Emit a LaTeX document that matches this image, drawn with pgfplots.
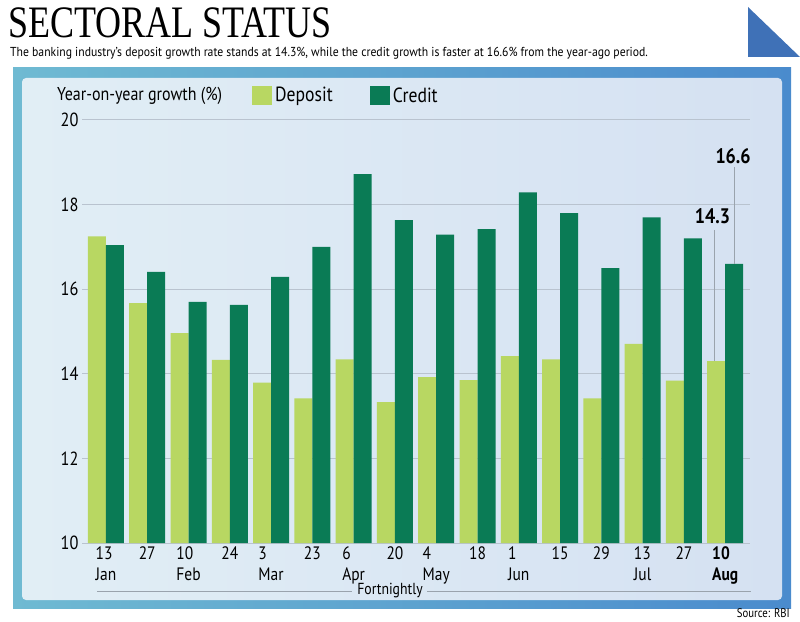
\documentclass[border=0pt]{standalone}
\usepackage{fontspec}
\setmainfont{PT Sans}
\newfontfamily\condfont[FakeStretch=0.86]{PT Sans}
\newfontfamily\subfont[FakeStretch=0.9]{PT Sans}
\newfontfamily\titlefont[FakeStretch=0.8]{Liberation Serif}
\usepackage{pgfplots}
\pgfplotsset{compat=1.18}
\definecolor{dep}{HTML}{B8D762}
\definecolor{cre}{HTML}{0A7B55}
\definecolor{gridc}{HTML}{B9C3CF}
\definecolor{tri}{HTML}{3F71B7}
\definecolor{frameL}{HTML}{6FBAD2}
\definecolor{frameR}{HTML}{4A8BCD}
\definecolor{panelL}{HTML}{E1EEF5}
\definecolor{panelR}{HTML}{D5E1F2}
\definecolor{annot}{HTML}{9AA3AD}
\begin{document}
\begin{tikzpicture}
\path[use as bounding box] (0pt,0pt) rectangle (800pt,621pt);
\shade[left color=frameL, right color=frameR] (13pt,13pt) rectangle (791pt,553pt);
\shade[left color=panelL, right color=panelR, rounded corners=4pt] (22pt,21pt) rectangle (782pt,543pt);
\fill[tri] (748pt,614pt) -- (748pt,564pt) -- (800pt,564pt) -- cycle;
\node[anchor=base west, inner sep=0pt, font=\titlefont\fontsize{45}{45}\selectfont] at (8pt,583pt) {SECTORAL STATUS};
\node[anchor=base west, inner sep=0pt, font=\subfont\fontsize{13}{15}\selectfont] at (10pt,564pt) {The banking industry’s deposit growth rate stands at 14.3\%, while the credit growth is faster at 16.6\% from the year-ago period.};
\node[anchor=base east, inner sep=0pt, font=\condfont\fontsize{12.5}{14}\selectfont] at (790pt,4pt) {Source: RBI};
\node[anchor=base west, inner sep=0pt, font=\condfont\fontsize{18.6}{20}\selectfont] at (57pt,520pt) {Year-on-year growth (\%)};
\node[inner sep=0pt, font=\condfont\fontsize{16}{18}\selectfont] at (390pt,30pt) {Fortnightly};
\draw[annot, line width=0.8pt] (97pt,30pt) -- (352pt,30pt);
\draw[annot, line width=0.8pt] (427pt,30pt) -- (751pt,30pt);
\begin{axis}[
  at={(82pt,78pt)}, anchor=south west,
  scale only axis, width=668pt, height=423pt,
  xmin=-0.58, xmax=15.6, ymin=10, ymax=20,
  ytick={10,12,...,20},
  ymajorgrids, grid style={gridc, line width=1pt},
  axis line style={draw=none}, major tick length=0pt,
  ybar=0pt, bar width=18pt,
  xtick={0,...,15},
  xticklabels={13\\Jan, 27, 10\\Feb, 24, 3\\Mar, 23, 6\\Apr, 20, 4\\May, 18, 1\\Jun, 15, 29, 13\\Jul, 27, \textbf{10}\\\textbf{Aug}},
  xticklabel style={align=left, font=\condfont\fontsize{18}{21}\selectfont, yshift=0pt},
  yticklabel style={font=\condfont\fontsize{19}{21}\selectfont},
  /pgf/number format/assume math mode=true,
  clip=false,
  legend style={at={(0.2545,1.058)}, anchor=west, draw=none, fill=none, inner sep=0pt,
    font=\condfont\fontsize{20.5}{22}\selectfont,
    nodes={inner sep=3pt},
    /tikz/every even column/.append style={column sep=34pt}},
  legend columns=2,
]
\addplot[fill=dep, draw=none, legend image code/.code={\fill[dep] (0pt,-9.5pt) rectangle (20pt,9.5pt);}]
  coordinates {(0,17.25) (1,15.67) (2,14.96) (3,14.33) (4,13.79) (5,13.42) (6,14.34) (7,13.33) (8,13.92) (9,13.85) (10,14.42) (11,14.34) (12,13.42) (13,14.71) (14,13.84) (15,14.3)};
\addlegendentry{Deposit}
\addplot[fill=cre, draw=none, legend image code/.code={\fill[cre] (0pt,-9.5pt) rectangle (20pt,9.5pt);}]
  coordinates {(0,17.04) (1,16.41) (2,15.70) (3,15.63) (4,16.29) (5,17.00) (6,18.72) (7,17.63) (8,17.29) (9,17.42) (10,18.29) (11,17.80) (12,16.50) (13,17.70) (14,17.20) (15,16.6)};
\addlegendentry{Credit}
\draw[annot, line width=0.8pt] (axis cs:15.22,18.88) -- (axis cs:15.22,16.6);
\draw[annot, line width=0.8pt] (axis cs:14.74,17.4) -- (axis cs:14.74,14.3);
\node[font=\condfont\bfseries\fontsize{21}{23}\selectfont, inner sep=0pt] at (axis cs:15.19,19.14) {16.6};
\node[font=\condfont\bfseries\fontsize{21}{23}\selectfont, inner sep=0pt] at (axis cs:14.69,17.72) {14.3};
\end{axis}
\end{tikzpicture}
\end{document}
